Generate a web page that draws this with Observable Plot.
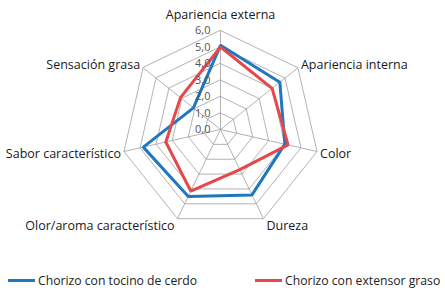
<!DOCTYPE html>
<html>
<head>
<meta charset="utf-8">
<script src="https://cdn.jsdelivr.net/npm/d3@7"></script>
<script src="https://cdn.jsdelivr.net/npm/@observablehq/plot@0.6"></script>
<style>
  html, body { margin: 0; padding: 0; background: #fff; }
  #wrap { width: 445px; font-family: "Open Sans", sans-serif; }
  #legend { position: relative; width: 445px; height: 32px; font-size: 12.2px; color: #222; }
  .item { position: absolute; top: 10px; display: flex; align-items: center; white-space: nowrap; }
  .sw { display: inline-block; width: 27px; height: 3px; margin-right: 3px; }
</style>
</head>
<body>
<div id="wrap"><div id="chart"></div><div id="legend"></div></div>
<script>
const categories = ["Apariencia externa", "Apariencia interna", "Color", "Dureza", "Olor/aroma característico", "Sabor característico", "Sensación grasa"];
const tocino = [5.1, 4.6, 4.0, 4.4, 4.5, 4.8, 2.1];
const extensor = [5.0, 4.0, 4.2, 2.7, 4.15, 3.4, 3.1];
const seriesNames = ["Chorizo con tocino de cerdo", "Chorizo con extensor graso"];
const seriesColors = ["#1f77c0", "#e5474b"];
const ticks = [0, 1, 2, 3, 4, 5, 6];
const tickLabels = ["0,0", "1,0", "2,0", "3,0", "4,0", "5,0", "6,0"];

const n = categories.length;
const ang = i => 2 * Math.PI * i / n;
const pt = (i, r) => ({ x: r * Math.sin(ang(i)), y: r * Math.cos(ang(i)) });

const rings = [];
ticks.filter(t => t > 0).forEach(t => categories.forEach((c, i) => rings.push({ ring: t, ...pt(i, t) })));
const spokes = categories.map((c, i) => ({ x2: pt(i, 6).x, y2: pt(i, 6).y }));
const series = [];
[tocino, extensor].forEach((vals, s) => vals.forEach((v, i) => series.push({ name: seriesNames[s], ...pt(i, v) })));
const tickData = ticks.map((t, k) => ({ x: 0, y: t, label: tickLabels[k] }));

// label offsets depend on axis direction
const labelMarks = categories.map((c, i) => {
  const s = Math.sin(ang(i)), co = Math.cos(ang(i));
  const anchor = Math.abs(s) < 0.1 ? "middle" : (s > 0 ? "start" : "end");
  const dx = anchor === "middle" ? 0 : (s > 0 ? 3 : -3);
  const dy = co > 0.9 ? -16 : co > 0.5 ? -3 : co > -0.5 ? 2 : 7;
  return Plot.text([{ ...pt(i, 6), label: c }], { x: "x", y: "y", text: "label", textAnchor: anchor, dx, dy, fontSize: 12.5, fill: "#1a1a1a" });
});

const chart = Plot.plot({
  width: 445,
  height: 262,
  margin: 0,
  style: { fontFamily: "'Open Sans', sans-serif", background: "#fff" },
  x: { domain: [-6, 6], range: [121, 319], axis: null },
  y: { domain: [-6, 6], range: [228, 30], axis: null },
  color: { domain: seriesNames, range: seriesColors },
  marks: [
    Plot.line(rings, { x: "x", y: "y", z: "ring", curve: "linear-closed", stroke: "#a0a0a0", strokeWidth: 0.8 }),
    Plot.link(spokes, { x1: 0, y1: 0, x2: "x2", y2: "y2", stroke: "#a0a0a0", strokeWidth: 0.8 }),
    Plot.line(series, { x: "x", y: "y", z: "name", stroke: "name", curve: "linear-closed", strokeWidth: 3, strokeLinejoin: "miter" }),
    Plot.text(tickData, { x: "x", y: "y", text: "label", textAnchor: "end", dx: -10, fontSize: 11, fill: "#555" }),
    ...labelMarks
  ]
});
document.getElementById("chart").appendChild(chart);

const legend = document.getElementById("legend");
const lefts = [8, 255];
seriesNames.forEach((name, s) => {
  const it = document.createElement("div");
  it.className = "item";
  it.style.left = lefts[s] + "px";
  const sw = document.createElement("span");
  sw.className = "sw";
  sw.style.background = seriesColors[s];
  const tx = document.createElement("span");
  tx.textContent = name;
  it.appendChild(sw); it.appendChild(tx);
  legend.appendChild(it);
});
</script>
</body>
</html>
